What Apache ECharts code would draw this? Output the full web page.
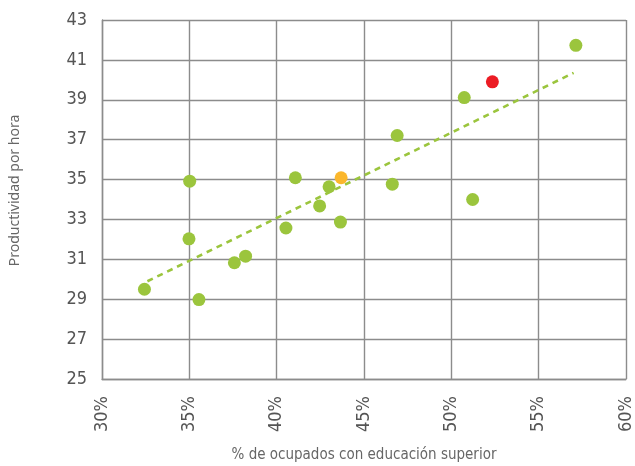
<!DOCTYPE html>
<html><head><meta charset="utf-8">
<script src="https://cdn.jsdelivr.net/npm/echarts@6/dist/echarts.min.js"></script>
<style>html,body{margin:0;padding:0;background:#fff}#c{width:635px;height:466px}</style>
</head><body><div id="c"></div>
<script>
// Green points: [% ocupados con educación superior, productividad por hora]
const greenX = [57.13, 50.74, 46.9, 35.02, 41.07, 43.0, 46.62, 51.22, 42.46, 43.65, 40.53, 34.98, 38.22, 37.58, 32.43, 35.55];
const greenY = [41.73, 39.11, 37.21, 34.92, 35.09, 34.64, 34.77, 34.0, 33.68, 32.87, 32.57, 32.03, 31.16, 30.83, 29.5, 28.98];
const redX = [52.35];
const redY = [39.9];
const orangeX = [43.69];
const orangeY = [35.09];
const trendX = [32.6, 57.0];
const trendY = [29.9, 40.35];
const xTicks = [30, 35, 40, 45, 50, 55, 60];
const yTicks = [25, 27, 29, 31, 33, 35, 37, 39, 41, 43];

const zip = (a, b) => a.map((v, i) => [v, b[i]]);
const FONT = '"DejaVu Sans Condensed", "Liberation Sans Narrow", Roboto, sans-serif';
const chart = echarts.init(document.getElementById('c'), null, {renderer: 'canvas'});
const gridLine = {lineStyle: {color: '#8c8c8c', width: 1.4}};
chart.setOption({
  animation: false,
  grid: {left: 102, right: 9, top: 20, bottom: 87, containLabel: false, outerBoundsMode: 'none'},
  xAxis: {
    type: 'value', min: xTicks[0], max: xTicks[xTicks.length - 1], interval: 5,
    name: '% de ocupados con educación superior', nameLocation: 'middle', nameGap: 69,
    nameTextStyle: {fontFamily: FONT, fontSize: 15, color: '#666', verticalAlign: 'top'},
    axisLine: {show: true, lineStyle: {color: '#8c8c8c', width: 1.4}},
    axisTick: {show: false},
    splitLine: {show: true, ...gridLine},
    axisLabel: {rotate: 90, margin: 17, fontFamily: FONT, fontSize: 18, color: '#555',
      formatter: v => v + '%'}
  },
  yAxis: {
    type: 'value', min: yTicks[0], max: yTicks[yTicks.length - 1], interval: 2,
    name: 'Productividad por hora', nameLocation: 'middle', nameGap: 80,
    nameTextStyle: {fontFamily: '"Noto Sans", "Open Sans", sans-serif', fontSize: 14, color: '#666',
      padding: [0, 0, 0, 18]},
    axisLine: {show: true, lineStyle: {color: '#8c8c8c', width: 1.4}},
    axisTick: {show: false},
    splitLine: {show: true, ...gridLine},
    axisLabel: {margin: 15, fontFamily: FONT, fontSize: 18, color: '#555', padding: [3, 0, 0, 0]}
  },
  series: [
    {type: 'line', data: zip(trendX, trendY), symbol: 'none', silent: true,
      lineStyle: {color: '#9BC53D', width: 2.6, type: [6, 5]}, z: 2},
    {type: 'scatter', data: zip(greenX, greenY), symbolSize: 13,
      itemStyle: {color: '#9BC53D', opacity: 1}, z: 3},
    {type: 'scatter', data: zip(orangeX, orangeY), symbolSize: 13,
      itemStyle: {color: '#FBB72C', opacity: 1}, z: 4},
    {type: 'scatter', data: zip(redX, redY), symbolSize: 13,
      itemStyle: {color: '#EC1C24', opacity: 1}, z: 4}
  ]
});
</script></body></html>
